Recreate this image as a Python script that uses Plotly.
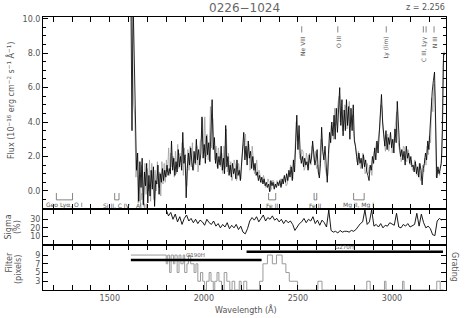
import numpy as np
import plotly.graph_objects as go

# ---------------- data ----------------
z_qso = 2.256

# black spectrum, 6 A sampling from 1612 A
flux_start, flux_step = 1612, 6
flux = [11.5, 3.5, 11.0, 7.4, 4.2, 1.2, 2.2, -0.6, 1.7, 0.2,
        1.9, -0.8, 1.1, 0.3, 1.6, -0.7, 0.9, -0.3, 1.2, 0.1,
        1.4, -0.9, 0.6, 0.4, 1.5, -0.2, 1.0, 0.5, 1.3, 0.6,
        1.2, 0.8, 1.5, 0.9, 1.3, 1.0, 2.9, 1.2, 1.9, 0.9,
        1.7, 1.1, 2.4, 1.4, 2.0, 1.2, 3.4, 1.6, 2.1, -0.4,
        1.3, 2.2, 1.5, 2.5, 1.7, 1.2, 2.3, 1.6, 3.0, 1.8,
        2.4, 1.5, 2.2, 4.3, 1.9, 2.7, 1.6, 3.2, 2.1, 2.8,
        1.7, 3.6, 5.3, 2.4, 3.1, 1.6, 2.2, 1.3, 2.0, 1.5,
        2.6, 1.2, 1.9, 1.0, 3.8, 1.4, 2.0, 0.9, 1.5, 0.8,
        1.6, 1.0, 1.3, 0.7, 1.8, 0.9, 1.2, 0.6, 1.4, 2.2,
        3.4, 1.8, 2.6, 1.5, 2.9, 1.9, 2.3, 1.3, 2.0, 1.2,
        1.6, 0.9, 1.1, 0.6, 0.9, 0.5, 0.8, 0.4, 0.7, 0.3,
        0.5, 0.2, 0.4, -0.05, 0.6, 0.3, 0.5, 0.1, 0.4, 0.2,
        0.5, 0.3, 0.6, 0.2, 0.7, 0.4, 0.9, 0.5, 1.0, 0.6,
        1.2, 0.8, 1.4, 0.6, 1.8, 1.1, 3.2, 4.4, 2.4, 3.8,
        2.2, 1.6, 2.0, 1.4, 1.9, 1.5, 1.7, 1.2, 2.1, 1.6,
        1.9, 2.9, 2.2, 1.5, 1.8, 2.4, 1.1, 0.75, 1.6, 3.7,
        2.3, 1.8, 2.6, 1.5, 0.5, 2.1, 3.4, 2.8, 4.0, 3.2,
        4.4, 3.0, 4.8, 3.4, 5.2, 6.0, 3.8, 5.3, 3.2, 4.7,
        3.5, 5.3, 3.8, 4.9, 3.0, 4.8, 3.5, 5.0, 2.9, 2.6,
        2.0, 1.5, 2.2, 1.6, 1.9, 1.3, 2.1, 1.4, 1.8, 1.1,
        0.9, 0.6, 1.5, 1.2, 2.0, 1.6, 2.5, 1.8, 2.9, 2.2,
        3.3, 4.2, 5.6, 4.0, 3.2, 2.6, 3.5, 2.4, 3.1, 2.7,
        3.4, 2.5, 3.0, 2.2, 3.6, 2.8, 5.2, 3.3, 2.6, 2.0,
        2.4, 1.8, 2.3, 1.5, 2.6, 1.9, 2.2, 1.6, 2.0, 1.4,
        1.5, 1.1, 1.7, 1.0, 1.4, 0.8, 1.6, 1.2, 0.35, 1.3,
        1.6, 2.2, 1.8, 2.9, 2.4, 3.6, 5.0, 5.8, 6.4, 6.9,
        4.0, 0.75, 1.4, 1.0, 1.3, 1.6, 3.5, 8.0, 7.9]

# gray spectrum, 6 A sampling from 1615 A
gray_start, gray_step = 1615, 6
gray_flux = [10.5, 7.5, 5.0, 4.4, 0.8, 1.8, -0.7, 0.9, -0.9, 1.5,
             0.4, -0.9, 1.6, -0.2, 1.3, 0.0, 1.8, -0.6, 1.6, 0.3,
             -0.5, 1.2, 0.0, 1.7, 0.2, 1.1, -0.3, 1.7, 0.4, 1.6,
             0.5, 1.8, 1.1, 2.5, 0.9, 2.2, 1.4, 2.0, 0.8, 2.3,
             1.0, 2.7, 1.3, 2.2, 1.7, 2.8, 0.9, 2.5, 1.2, 0.3,
             2.4, 1.2, 2.6, 1.4, 2.8, 1.2, 2.0, 1.5, 2.6, 1.1,
             1.8, 2.9, 3.0, 4.2, 2.2, 4.3, 2.0, 3.3, 1.8, 2.6,
             4.9, 2.5, 4.2, 2.8, 1.8, 2.6, 1.4, 2.5, 1.9, 1.4,
             2.2, 1.0, 2.6, 1.3, 3.6, 1.1, 2.2, 1.0, 1.7, 0.6,
             0.9, 1.8, 1.5, 0.6, 0.8, 1.6, 1.1, 0.7, 1.9, 2.6,
             2.8, 3.3, 2.0, 2.4, 2.7, 1.2, 1.6, 2.6, 1.8, 1.0,
             1.3, 1.8, 0.8, 1.2, 0.9, 0.5, 0.5, 0.9, 0.6, 0.2,
             0.3, 0.7, 0.5, 0.0, 0.1, 0.6, 0.6, 0.2, 0.3, 0.6,
             0.4, 0.6, 0.7, 0.3, 0.5, 0.8, 0.8, 0.3, 0.4, 0.9,
             1.0, 1.5, 1.3, 0.7, 1.6, 2.4, 4.0, 2.9, 3.1, 1.9,
             1.8, 2.4, 2.3, 1.2, 1.4, 2.2, 1.8, 1.3, 2.2, 1.5,
             2.6, 2.0, 1.7, 2.3, 1.3, 1.5, 1.0, 2.0, 3.0, 2.6,
             2.0, 1.4, 1.2, 0.9, 0.9, 2.4, 2.9, 3.8, 3.6, 3.0,
             4.8, 3.8, 4.1, 5.1, 5.5, 4.0, 4.6, 3.5, 3.9, 5.0,
             4.8, 3.6, 4.3, 5.2, 3.7, 4.1, 4.4, 3.3, 2.9, 2.3,
             1.7, 2.3, 2.0, 1.3, 1.5, 2.2, 1.9, 1.0, 1.2, 1.6,
             1.0, 1.4, 1.3, 0.9, 1.8, 2.3, 2.3, 2.8, 2.7, 3.1,
             3.7, 5.0, 4.8, 3.5, 3.0, 2.3, 2.9, 3.3, 2.3, 3.0,
             3.0, 2.2, 2.6, 3.4, 4.0, 4.6, 3.0, 2.6, 2.3, 1.7,
             2.0, 2.6, 2.5, 1.8, 1.7, 2.4, 2.1, 1.5, 1.8, 1.2,
             1.3, 1.8, 1.5, 0.9, 1.0, 1.6, 0.6, 0.9, 1.5, 1.1,
             1.9, 1.5, 2.6, 2.1, 3.2, 2.8, 5.4, 4.6, 6.2, 5.5,
             0.8, 1.1, 1.2, 0.9, 1.5, 2.0, 7.2, 8.1]

# sigma (%), 12 A sampling from 1800 A
sig_start, sig_step = 1800, 12
sigma = [41, 34, 38, 30, 36, 27, 33, 24, 31, 35,
         28, 31, 26, 30, 25, 29, 27, 23, 30, 26,
         24, 28, 22, 25, 20, 24, 21, 26, 19, 23,
         20, 24, 18, 22, 15, 13, 19, 28, 32, 29,
         33, 27, 31, 35, 28, 32, 30, 34, 29, 31,
         27, 30, 25, 29, 26, 28, 24, 17, 21, 25,
         27, 31, 26, 30, 28, 33, 25, 29, 23, 29,
         26, 21, 41, 17, 15, 16, 14, 17, 15, 16,
         16, 15, 17, 16, 18, 22, 25, 27, 41, 24,
         27, 41, 22, 24, 21, 25, 20, 23, 22, 26,
         24, 23, 37, 21, 20, 24, 22, 25, 21, 23,
         24, 37, 22, 36, 26, 20, 22, 19, 12, 11,
         28, 31, 29]

# filter width (pixels), step function
filt_wave = [1612, 1800, 1808, 1818, 1826, 1838, 1846, 1858, 1868, 1878,
             1890, 1898, 1910, 1918, 1930, 1948, 1958, 1968, 1982, 1994,
             2004, 2014, 2028, 2038, 2050, 2058, 2070, 2080, 2094, 2108,
             2122, 2138, 2150, 2164, 2188, 2198, 2212, 2228, 2296, 2314,
             2338, 2364, 2386, 2416, 2436, 2454, 2498, 2606, 2628, 2866,
             2884, 2960, 2968, 3056, 3064, 3238, 3256, 3274]
filt_val = [9, 7, 9, 5, 9, 7, 9, 5, 9, 7,
            9, 5, 7, 9, 7, 5, 7, 3, 5, 3,
            1, 3, 5, 3, 1, 3, 5, 3, 1, 5,
            3, 1, 3, 1, 3, 1, 3, 1, 3, 7,
            9, 7, 9, 7, 5, 3, 1, 3, 1, 3,
            1, 3, 1, 3, 1, 3, 1, 1]

# gratings
grating_names = ["G190H", "G270H"]
grating_lo = [1612, 2227]
grating_hi = [2307, 3271]
grating_level = [7.85, 9.76]
grating_label_x = [1955, 2750]

# galactic / geocoronal features (observed frame)
gal_labels = ["Geo Lyα, O I", "Si II, C IV", "Al II", "Fe II", "Fe II", "Mg II, Mg I"]
gal_lo = [1216, 1526, 1671, 2344, 2586, 2796]
gal_hi = [1302, 1549, 1671, 2382, 2600, 2852]

# QSO emission lines (rest frame)
em_labels = ["Ne VIII", "O III", "Ly (lim)", "C III, Lyγ", "N III"]
em_rest = [[774.0], [832.9], [912.0], [972.5, 977.0], [990.0]]

# ---------------- figure ----------------
W, H = 468, 318
ml, mr, mt, mb = 43, 22, 17, 28
ph = H - mt - mb
pw = W - ml - mr
def py(p):  # pixel y -> paper y
    return (H - mb - p) / ph
def px_(p):  # pixel x -> paper x
    return (p - ml) / pw

TXT = "#555555"
FONT = "DejaVu Sans"

wave = flux_start + flux_step * np.arange(len(flux))
gwave = gray_start + gray_step * np.arange(len(gray_flux))
swave = sig_start + sig_step * np.arange(len(sigma))

fig = go.Figure()
fig.add_trace(go.Scatter(x=gwave, y=gray_flux, mode="lines",
                         line=dict(color="#a0a0a0", width=0.8), xaxis="x", yaxis="y"))
fig.add_trace(go.Scatter(x=wave, y=flux, mode="lines",
                         line=dict(color="black", width=0.85), xaxis="x", yaxis="y"))
fig.add_trace(go.Scatter(x=swave, y=sigma, mode="lines",
                         line=dict(color="black", width=0.9), xaxis="x2", yaxis="y2"))
fig.add_trace(go.Scatter(x=filt_wave, y=filt_val, mode="lines", line_shape="hv",
                         line=dict(color="#9a9a9a", width=1), xaxis="x3", yaxis="y3"))
for lo, hi, lev in zip(grating_lo, grating_hi, grating_level):
    fig.add_trace(go.Scatter(x=[lo, hi], y=[lev, lev], mode="lines",
                             line=dict(color="black", width=2.5), xaxis="x3", yaxis="y3"))

ann = []
shapes = []
def note(x, y, text, size, xref="paper", yref="paper", angle=0, xa="center", ya="middle",
         color=TXT):
    ann.append(dict(x=x, y=y, xref=xref, yref=yref, text=text, showarrow=False,
                    textangle=angle, xanchor=xa, yanchor=ya,
                    font=dict(size=size, color=color, family=FONT)))

# grating labels
for name, lx, lev in zip(grating_names, grating_label_x, grating_level):
    note(lx, lev, name, 5.5, "x3", "y3", ya="bottom")

# galactic brackets
y_top, y_bot, y_txt = -0.12, -0.52, -0.82
for lab, lo, hi in zip(gal_labels, gal_lo, gal_hi):
    if lo != hi:
        shapes.append(dict(type="path", xref="x", yref="y",
                           path=f"M {lo},{y_top} L {lo},{y_bot} L {hi},{y_bot} L {hi},{y_top}",
                           line=dict(color="#666666", width=0.8)))
    else:
        shapes.append(dict(type="line", xref="x", yref="y", x0=lo, x1=lo, y0=y_top, y1=y_bot,
                           line=dict(color="#666666", width=0.8)))
    note((lo + hi) / 2, y_txt, lab, 6, "x", "y")

# emission lines at top
for lab, rest in zip(em_labels, em_rest):
    obs = [r * (1 + z_qso) for r in rest]
    for o in obs:
        shapes.append(dict(type="line", xref="x", yref="y", x0=o, x1=o, y0=9.2, y1=9.56,
                           line=dict(color="#666666", width=0.8)))
    note(sum(obs) / len(obs), 9.1, lab, 6, "x", "y", angle=-90, ya="top")

# titles and axis labels
note(px_(245), py(8), "0226−1024", 12, color="#666666")
note(px_(447), py(8), "z = 2.256", 8, xa="right")
note(px_(10), py(101),
     "Flux (10<sup>−16</sup> erg cm<sup>−2</sup> s<sup>−1</sup> Å<sup>−1</sup>)", 8, angle=-90)
note(px_(8.5), py(227), "Sigma", 8, angle=-90)
note(px_(18), py(227), "(%)", 8, angle=-90)
note(px_(8.5), py(262), "Filter", 8, angle=-90)
note(px_(18), py(270), "(pixels)", 8, angle=-90)
note(px_(455), py(267), "Grating", 8, angle=90)
note(px_(246), py(309), "Wavelength (Å)", 8)

d_main = [py(209), 1.0]
d_sig = [py(245), py(209)]
d_fil = [0.0, py(245)]

xcommon = dict(range=[1145, 3287], showgrid=False, zeroline=False, showline=True,
               linecolor="black", linewidth=1, mirror="ticks", ticks="inside", ticklen=5,
               tickcolor="black", tickmode="linear", tick0=1000, dtick=500,
               minor=dict(ticks="inside", ticklen=5, dtick=100, tick0=1000, tickcolor="black"),
               tickfont=dict(size=8, color=TXT, family=FONT))
ycommon = dict(showgrid=False, zeroline=False, showline=True, linecolor="black", linewidth=1,
               mirror="ticks", ticks="inside", ticklen=5, tickcolor="black",
               tickfont=dict(size=8, color=TXT, family=FONT))

fig.update_layout(
    width=W, height=H, margin=dict(l=ml, r=mr, t=mt, b=mb),
    paper_bgcolor="white", plot_bgcolor="white", showlegend=False,
    xaxis=dict(**xcommon, anchor="y", showticklabels=False),
    xaxis2=dict(**xcommon, anchor="y2", matches="x", showticklabels=False),
    xaxis3=dict(**xcommon, anchor="y3", matches="x", showticklabels=True),
    yaxis=dict(**ycommon, domain=d_main, range=[-1.05, 10.1], tickvals=[0, 2, 4, 6, 8, 10],
               tickformat=".1f", minor=dict(ticks="inside", ticklen=3, dtick=0.5, tick0=0,
                                             tickcolor="black")),
    yaxis2=dict(**ycommon, domain=d_sig, range=[0, 42], tickvals=[10, 20, 30]),
    yaxis3=dict(**ycommon, domain=d_fil, range=[1, 11.3], tickvals=[3, 5, 7, 9]),
    annotations=ann, shapes=shapes,
)

fig.write_html("out.html")
